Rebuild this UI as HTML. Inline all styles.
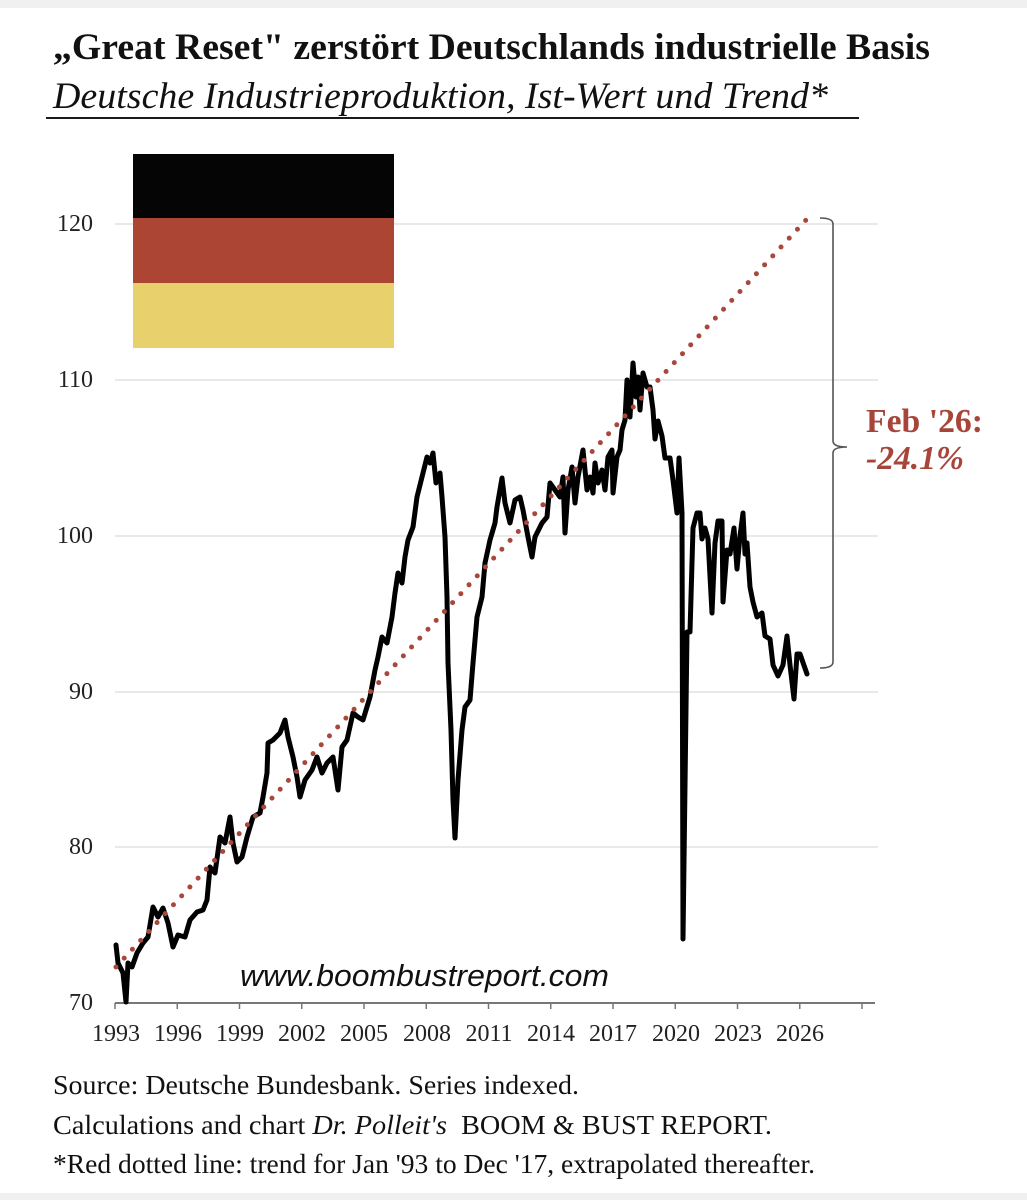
<!DOCTYPE html>
<html>
<head>
<meta charset="utf-8">
<style>
  html,body{margin:0;padding:0;background:#fff;}
  svg{display:block;}
</style>
</head>
<body>
<svg width="1027" height="1200" viewBox="0 0 1027 1200" xmlns="http://www.w3.org/2000/svg">
  <rect x="0" y="0" width="1027" height="1200" fill="#ffffff"/>
  <rect x="0" y="0" width="1027" height="8" fill="#f0f0f0"/>
  <rect x="0" y="1193" width="1027" height="7" fill="#f0f0f0"/>

  <!-- Title -->
  <text x="53" y="59" font-family="'Liberation Serif', serif" font-weight="bold" font-size="37.5" fill="#111" textLength="877" lengthAdjust="spacingAndGlyphs">„Great Reset" zerstört Deutschlands industrielle Basis</text>
  <text x="53" y="108" font-family="'Liberation Serif', serif" font-style="italic" font-size="37.5" fill="#111" textLength="775" lengthAdjust="spacingAndGlyphs">Deutsche Industrieproduktion, Ist-Wert und Trend*</text>
  <line x1="46" y1="118" x2="859" y2="118" stroke="#1a1a1a" stroke-width="2"/>

  <!-- Gridlines -->
  <g stroke="#e2e2e2" stroke-width="1.5">
    <line x1="115" y1="224" x2="878" y2="224"/>
    <line x1="115" y1="380" x2="878" y2="380"/>
    <line x1="115" y1="536" x2="878" y2="536"/>
    <line x1="115" y1="692" x2="878" y2="692"/>
    <line x1="115" y1="847" x2="878" y2="847"/>
  </g>

  <!-- Y labels -->
  <g font-family="'Liberation Serif', serif" font-size="24" fill="#222" text-anchor="end">
    <text x="93" y="231">120</text>
    <text x="93" y="387">110</text>
    <text x="93" y="543">100</text>
    <text x="93" y="699">90</text>
    <text x="93" y="854">80</text>
    <text x="93" y="1010">70</text>
  </g>

  <!-- Flag -->
  <rect x="133" y="154" width="261" height="64" fill="#050505"/>
  <rect x="133" y="218" width="261" height="65" fill="#ad4535"/>
  <rect x="133" y="283" width="261" height="65" fill="#e8d06c"/>

  <!-- X axis -->
  <line x1="115" y1="1003" x2="875" y2="1003" stroke="#777" stroke-width="2"/>
  <g stroke="#777" stroke-width="1.5">
    <line x1="115" y1="1003" x2="115" y2="1009"/>
    <line x1="177.25" y1="1003" x2="177.25" y2="1009"/>
    <line x1="239.5" y1="1003" x2="239.5" y2="1009"/>
    <line x1="301.75" y1="1003" x2="301.75" y2="1009"/>
    <line x1="364" y1="1003" x2="364" y2="1009"/>
    <line x1="426.25" y1="1003" x2="426.25" y2="1009"/>
    <line x1="488.5" y1="1003" x2="488.5" y2="1009"/>
    <line x1="550.75" y1="1003" x2="550.75" y2="1009"/>
    <line x1="613" y1="1003" x2="613" y2="1009"/>
    <line x1="675.25" y1="1003" x2="675.25" y2="1009"/>
    <line x1="737.5" y1="1003" x2="737.5" y2="1009"/>
    <line x1="799.75" y1="1003" x2="799.75" y2="1009"/>
    <line x1="862" y1="1003" x2="862" y2="1009"/>
  </g>
  <g font-family="'Liberation Serif', serif" font-size="24" fill="#222" text-anchor="middle">
    <text x="116" y="1041">1993</text>
    <text x="178" y="1041">1996</text>
    <text x="240" y="1041">1999</text>
    <text x="302" y="1041">2002</text>
    <text x="364" y="1041">2005</text>
    <text x="427" y="1041">2008</text>
    <text x="489" y="1041">2011</text>
    <text x="551" y="1041">2014</text>
    <text x="613" y="1041">2017</text>
    <text x="676" y="1041">2020</text>
    <text x="738" y="1041">2023</text>
    <text x="800" y="1041">2026</text>
  </g>

  <!-- Watermark -->
  <text x="240" y="986" font-family="'Liberation Sans', sans-serif" font-style="italic" font-size="31" fill="#111" textLength="369" lengthAdjust="spacingAndGlyphs">www.boombustreport.com</text>

  <!-- Data series -->
  <polyline fill="none" stroke="#000" stroke-width="5" stroke-linejoin="round" stroke-linecap="round"
    points="116,945 118,963 123,973 126,1002 128,963 132,967 137,953 143,943 148,937 153,907 158,917 163,908 168,923 173,947 178,935 185,937 190,920 197,912 203,910 207,900 210,867 215,873 220,837 225,843 230,817 233,843 237,862 242,857 247,837 253,817 260,813 263,797 267,773 268,743 273,740 280,733 285,720 288,737 293,757 297,777 300,797 305,780 312,770 317,757 322,773 327,763 333,757 338,790 342,747 347,740 353,713 358,717 363,720 370,697 375,670 378,657 382,637 387,643 392,617 395,593 398,573 402,583 405,557 408,540 413,527 417,497 422,477 427,457 430,463 433,453 436,483 440,473 442,497 445,537 447,597 448,663 451,730 453,800 455,838 458,780 462,730 465,707 470,700 473,663 477,617 482,597 485,563 490,540 495,523 497,507 502,478 505,503 510,523 515,500 520,497 523,510 528,537 532,557 535,537 542,523 547,517 550,483 555,490 560,497 563,477 565,533 568,490 572,467 575,503 578,477 583,450 587,490 590,477 593,493 595,463 598,483 602,470 605,490 608,457 612,450 613,493 617,457 620,450 622,430 625,420 627,380 630,417 633,363 636,397 638,377 640,410 643,373 647,387 650,387 653,410 655,439 658,421 662,436 665,458 670,458 673,480 677,513 679,458 682,513 683,939 687,632 690,632 693,528 697,513 700,513 702,539 705,528 708,539 712,613 715,543 718,521 722,521 723,602 727,550 730,554 734,528 737,569 740,536 743,513 745,554 747,543 750,587 753,602 757,617 762,613 765,636 770,639 773,665 778,676 783,665 787,636 790,665 794,699 797,654 800,654 807,674"/>

  <!-- Trend dotted line -->
  <line x1="116" y1="967" x2="806" y2="220" stroke="#a8483c" stroke-width="5" stroke-linecap="round" stroke-dasharray="0 12.1"/>

  <!-- Bracket -->
  <path d="M820,218 Q833,218 833,224 L833,441 Q833,447 847,447 Q833,447 833,453 L833,662 Q833,668 820,668" fill="none" stroke="#555" stroke-width="1.6"/>

  <!-- Annotation -->
  <text x="866" y="432" font-family="'Liberation Serif', serif" font-weight="bold" font-size="34" fill="#a8453a" textLength="117" lengthAdjust="spacingAndGlyphs">Feb '26:</text>
  <text x="866" y="469" font-family="'Liberation Serif', serif" font-weight="bold" font-style="italic" font-size="34" fill="#a8453a" textLength="98" lengthAdjust="spacingAndGlyphs">-24.1%</text>

  <!-- Source notes -->
  <g font-family="'Liberation Serif', serif" font-size="27.5" fill="#111">
    <text x="53" y="1094" textLength="526" lengthAdjust="spacingAndGlyphs">Source: Deutsche Bundesbank. Series indexed.</text>
    <text x="53" y="1134" textLength="719" lengthAdjust="spacingAndGlyphs" xml:space="preserve">Calculations and chart <tspan font-style="italic">Dr. Polleit's</tspan>  BOOM &amp; BUST REPORT.</text>
    <text x="53" y="1173" textLength="762" lengthAdjust="spacingAndGlyphs">*Red dotted line: trend for Jan '93 to Dec '17, extrapolated thereafter.</text>
  </g>
</svg>
</body>
</html>
